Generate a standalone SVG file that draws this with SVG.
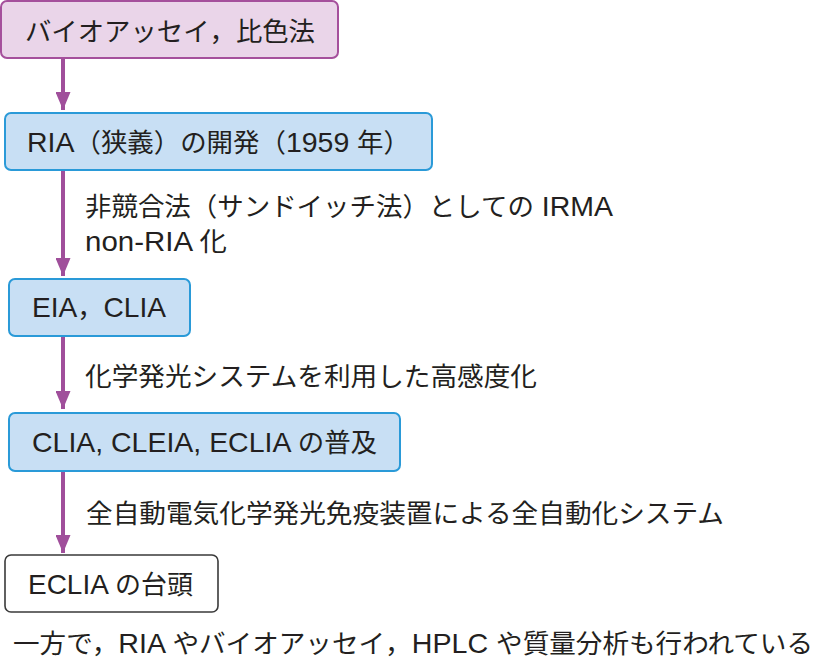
<svg xmlns="http://www.w3.org/2000/svg" width="816" height="662" viewBox="0 0 816 662">
<style>
text{font-family:"Liberation Sans","Noto Sans CJK JP",sans-serif;font-size:26px;fill:#231f20}
.l{font-size:28px}
.pink{fill:#ead5e9;stroke:#a5509c;stroke-width:2}
.blue{fill:#c8dff4;stroke:#2a9ad8;stroke-width:2}
.white{fill:#ffffff;stroke:#3a3a3a;stroke-width:1.6}
.conn{stroke:#a04f9b;stroke-width:4;fill:none}
</style>
<defs>
<marker id="ah" markerUnits="userSpaceOnUse" markerWidth="18" markerHeight="15" refX="18" refY="7.5" orient="auto" viewBox="0 0 18 15">
<path d="M0,0 L18,7.5 L0,15 Z" fill="#a04f9b"/>
</marker>
</defs>
<rect width="816" height="662" fill="#ffffff"/>
<g id="connectors">
<line class="conn" x1="63" y1="59" x2="63" y2="110" marker-end="url(#ah)"/>
<line class="conn" x1="63" y1="171" x2="63" y2="276" marker-end="url(#ah)"/>
<line class="conn" x1="63" y1="337" x2="63" y2="409" marker-end="url(#ah)"/>
<line class="conn" x1="63" y1="472" x2="63" y2="553" marker-end="url(#ah)"/>
</g>
<g id="node1">
<rect class="pink" x="1" y="1" width="337" height="57" rx="6"/>
<text x="25" y="41" textLength="290" lengthAdjust="spacingAndGlyphs">バイオアッセイ，比色法</text>
</g>
<g id="node2">
<rect class="blue" x="5" y="113" width="427" height="57" rx="6"/>
<text x="27" y="152" textLength="383" lengthAdjust="spacingAndGlyphs"><tspan class="l">RIA</tspan>（狭義）の開発（<tspan class="l">1959 </tspan>年）</text>
</g>
<g id="label1">
<text x="85" y="216" textLength="528" lengthAdjust="spacingAndGlyphs">非競合法（サンドイッチ法）としての<tspan class="l"> IRMA</tspan></text>
<text x="85" y="251" textLength="142" lengthAdjust="spacingAndGlyphs"><tspan class="l">non-RIA </tspan>化</text>
</g>
<g id="node3">
<rect class="blue" x="9" y="279" width="181" height="57" rx="6"/>
<text x="32" y="317" textLength="134" lengthAdjust="spacingAndGlyphs"><tspan class="l">EIA</tspan>，<tspan class="l">CLIA</tspan></text>
</g>
<g id="label2">
<text x="85" y="386" textLength="452" lengthAdjust="spacingAndGlyphs">化学発光システムを利用した高感度化</text>
</g>
<g id="node4">
<rect class="blue" x="9" y="413" width="391" height="58" rx="6"/>
<text x="32" y="452" textLength="345" lengthAdjust="spacingAndGlyphs"><tspan class="l">CLIA, CLEIA, ECLIA </tspan>の普及</text>
</g>
<g id="label3">
<text x="86" y="523" textLength="638" lengthAdjust="spacingAndGlyphs">全自動電気化学発光免疫装置による全自動化システム</text>
</g>
<g id="node5">
<rect class="white" x="5" y="555" width="213" height="57" rx="6"/>
<text x="28" y="594" textLength="165" lengthAdjust="spacingAndGlyphs"><tspan class="l">ECLIA </tspan>の台頭</text>
</g>
<g id="note">
<text x="13" y="653" textLength="800" lengthAdjust="spacingAndGlyphs">一方で，<tspan class="l">RIA </tspan>やバイオアッセイ，<tspan class="l">HPLC </tspan>や質量分析も行われている</text>
</g>
</svg>
